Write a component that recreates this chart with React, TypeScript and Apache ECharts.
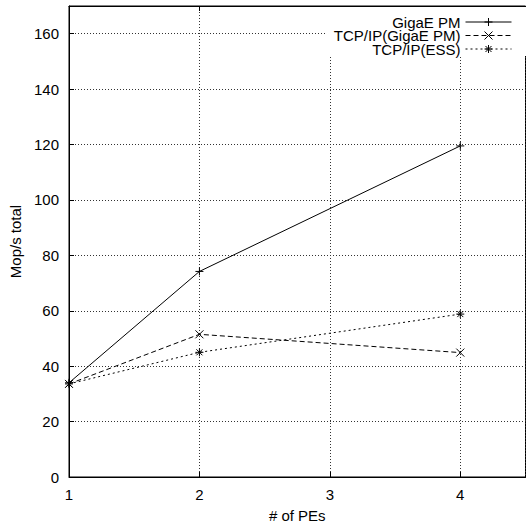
import React, { useEffect, useRef } from "react";
import * as echarts from "echarts";

// Number of processing elements on the x axis
const pes = [1, 2, 4];

// Total throughput (Mop/s) per configuration
const gigaePm = [34, 74.2, 119.5];
const tcpGigaePm = [33.6, 51.5, 44.9];
const tcpEss = [33.6, 45, 58.8];

const seriesNames = ["GigaE PM", "TCP/IP(GigaE PM)", "TCP/IP(ESS)"];

const FONT = "'Liberation Sans', Arial, Helvetica, sans-serif";
const FS = 15;

const plusPath = "path://M0,4L8,4M4,0L4,8";
const crossPath = "path://M0,0L8,8M8,0L0,8";
const starPath = "path://M0,4L8,4M4,0L4,8M1,1L7,7M7,1L1,7";

const toPairs = (ys: number[]) => pes.map((x, i) => [x, ys[i]]);

export default function App() {
  const ref = useRef<HTMLDivElement>(null);

  useEffect(() => {
    if (!ref.current) return;
    const chart = echarts.init(ref.current, undefined, { renderer: "svg" });

    const makeSeries = (
      name: string,
      ys: number[],
      symbol: string,
      type: any
    ) => ({
      name,
      type: "line",
      data: toPairs(ys),
      symbol,
      symbolSize: 8,
      showSymbol: true,
      lineStyle: { color: "#000", width: 1, type },
      itemStyle: { color: "#000", borderColor: "#000", borderWidth: 1 },
      emphasis: { disabled: true },
      z: 5,
    });

    const legendItem = (name: string, top: number) => ({
      data: [name],
      orient: "horizontal",
      align: "right",
      right: 14,
      top,
      itemWidth: 46,
      itemHeight: 10,
      itemGap: 0,
      padding: [1, 0, 1, 0],
      lineStyle: { width: 1 },
      itemStyle: { borderWidth: 1 },
      textStyle: {
        fontFamily: FONT,
        fontSize: FS,
        lineHeight: 13,
        color: "#000",
        padding: [0, 0, 0, 0],
      },
      selectedMode: false,
      z: 10,
    });

    chart.setOption({
      animation: false,
      backgroundColor: "#fff",
      grid: {
        left: 67,
        top: 6,
        right: 0.5,
        bottom: 47,
        show: true,
        borderColor: "#000",
        borderWidth: 1,
        backgroundColor: "transparent",
      },
      legend: [
        legendItem(seriesNames[0], 13.5),
        legendItem(seriesNames[1], 27),
        legendItem(seriesNames[2], 40.5),
      ],
      graphic: [
        {
          type: "rect",
          shape: { x: 327, y: 7, width: 200, height: 49 },
          style: { fill: "#fff" },
          z: 1,
          silent: true,
        },
      ],
      xAxis: [
        {
          type: "value",
          min: 1,
          max: 4.5,
          interval: 1,
          name: "# of PEs",
          nameLocation: "middle",
          nameGap: 31,
          nameTextStyle: { fontFamily: FONT, fontSize: FS, color: "#000" },
          axisLine: { show: true, lineStyle: { color: "#000", width: 1 } },
          axisTick: { show: true, inside: true, length: 5, lineStyle: { color: "#000" } },
          axisLabel: {
            fontFamily: FONT,
            fontSize: FS,
            color: "#000",
            margin: 10,
            showMaxLabel: false,
          },
          splitLine: {
            show: true,
            lineStyle: { color: "#333", width: 1, type: [1, 2] },
          },
        },
        {
          type: "value",
          position: "top",
          min: 1,
          max: 4.5,
          interval: 1,
          axisLine: { show: true, lineStyle: { color: "#000", width: 1 } },
          axisTick: { show: true, inside: true, length: 5, lineStyle: { color: "#000" } },
          axisLabel: { show: false },
          splitLine: { show: false },
        },
      ],
      yAxis: [
        {
          type: "value",
          min: 0,
          max: 170,
          interval: 20,
          name: "Mop/s total",
          nameLocation: "middle",
          nameGap: 46,
          nameTextStyle: { fontFamily: FONT, fontSize: FS, color: "#000" },
          axisLine: { show: true, lineStyle: { color: "#000", width: 1 } },
          axisTick: { show: true, inside: true, length: 5, lineStyle: { color: "#000" } },
          axisLabel: {
            fontFamily: FONT,
            fontSize: FS,
            color: "#000",
            margin: 10,
            showMaxLabel: false,
          },
          splitLine: {
            show: true,
            lineStyle: { color: "#333", width: 1, type: [1, 2] },
          },
        },
      ],
      series: [
        makeSeries(seriesNames[0], gigaePm, plusPath, "solid"),
        makeSeries(seriesNames[1], tcpGigaePm, crossPath, [5, 3]),
        makeSeries(seriesNames[2], tcpEss, starPath, [2, 3]),
      ],
    });

    return () => chart.dispose();
  }, []);

  return (
    <div
      ref={ref}
      style={{ position: "fixed", left: 0, top: 0, width: 526, height: 528 }}
    />
  );
}
